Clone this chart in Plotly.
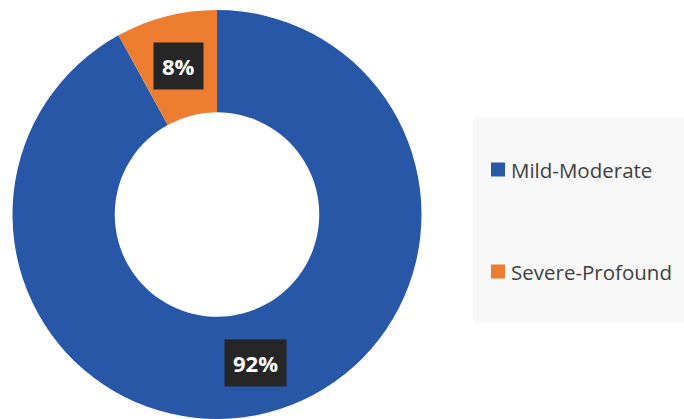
import math
import plotly.graph_objects as go

categories = ["Mild-Moderate", "Severe-Profound"]
values = [92, 8]
colors = ["#2857A8", "#ED7D31"]
label_texts = ["92%", "8%"]

W, H = 684, 419
dom_x = [12 / W, 422 / W]
dom_y = [0.0, 409 / H]
hole = 0.5

fig = go.Figure()
fig.add_trace(go.Pie(
    labels=categories,
    values=values,
    hole=hole,
    sort=False,
    direction="clockwise",
    rotation=0,
    marker=dict(colors=colors, line=dict(width=0)),
    textinfo="none",
    hoverinfo="label+percent",
    domain=dict(x=dom_x, y=dom_y),
    showlegend=False,
))

# Data labels placed at the middle of each slice (computed from values)
cx = (dom_x[0] + dom_x[1]) / 2 * W
cy_px = (1 - (dom_y[0] + dom_y[1]) / 2) * H
r_out = min((dom_x[1] - dom_x[0]) * W, (dom_y[1] - dom_y[0]) * H) / 2
r_mid = r_out * (1 + hole) / 2
total = sum(values)
cum = 0
for v, t in zip(values, label_texts):
    mid = (cum + v / 2) / total * 2 * math.pi
    cum += v
    px = cx + r_mid * math.sin(mid)
    py = cy_px - r_mid * math.cos(mid)
    fig.add_annotation(
        x=px / W, y=1 - py / H, xref="paper", yref="paper",
        text="<b>" + t + "</b>", showarrow=False,
        font=dict(family="Open Sans", size=22, color="white"),
        bgcolor="#262626", borderpad=8,
        xanchor="center", yanchor="middle",
    )

# Legend panel drawn with shapes and text annotations
fig.add_shape(type="rect", xref="paper", yref="paper",
              x0=473 / W, x1=1.0, y0=1 - 323 / H, y1=1 - 117 / H,
              fillcolor="#F8F8F8", line=dict(width=0), layer="below")
leg_y = [169.5, 271.5]
for name, col, ly in zip(categories, colors, leg_y):
    fig.add_shape(type="rect", xref="paper", yref="paper",
                  x0=491 / W, x1=505 / W, y0=1 - (ly + 7) / H, y1=1 - (ly - 7) / H,
                  fillcolor=col, line=dict(width=0))
    fig.add_annotation(x=509 / W, y=1 - ly / H, xref="paper", yref="paper",
                       text=name, showarrow=False, xanchor="left", yanchor="middle",
                       font=dict(family="Open Sans", size=20.5, color="#404040"))

fig.update_layout(
    width=W, height=H,
    margin=dict(l=0, r=0, t=0, b=0),
    paper_bgcolor="white",
    plot_bgcolor="white",
    showlegend=False,
)
fig.write_html("out.html")
